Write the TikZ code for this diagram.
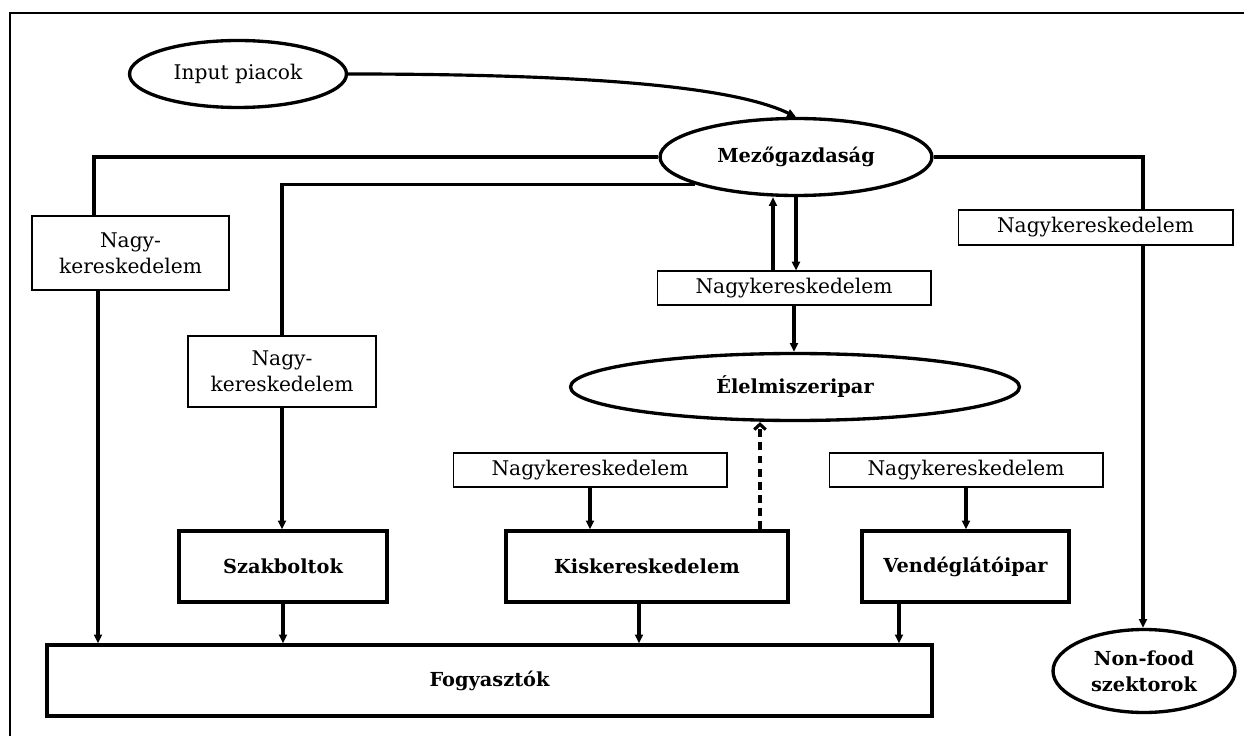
\documentclass[tikz,border=0pt]{standalone}
\usepackage{fontspec}
\setmainfont{DejaVu Serif}
\usepackage{tikz}
\usetikzlibrary{shapes.geometric,arrows.meta}
\newcommand{\diagfont}{\fontsize{11.5}{15}\selectfont}
\newcommand{\diagbold}{\fontsize{11}{15}\selectfont\bfseries}
\tikzset{
	oval/.style={ellipse, draw, line width=1.9pt, inner sep=0pt, font=\diagbold, align=center},
	thinbox/.style={rectangle, draw, line width=0.6pt, inner sep=0pt, font=\diagfont, align=center},
	thickbox/.style={rectangle, draw, line width=1.9pt, inner sep=0pt, font=\diagbold, minimum height=1.42cm},
	link/.style={line width=1.8pt},
	arrow/.style={-{Triangle[length=5pt,width=4.5pt]}, line width=1.8pt}
}

\begin{document}
\begin{tikzpicture}[x=0.02cm,y=-0.02cm]
			\useasboundingbox (0,0) rectangle (1244,736);
			\draw[line width=0.9pt] (10,13) rectangle (1270,760);

			% ellipses
			\node[oval,minimum width=4.34cm,minimum height=1.34cm,font=\diagfont] (input) at (238,74) {Input piacok};
			\node[oval,minimum width=5.44cm,minimum height=1.54cm] (mezo) at (796,157) {Mezőgazdaság};
			\node[oval,minimum width=8.98cm,minimum height=1.34cm] (elelm) at (795,387) {Élelmiszeripar};
			\node[oval,minimum width=3.64cm,minimum height=1.66cm] (nonfood) at (1144,671) {Non-food\\szektorok};

			% wholesale boxes
			\node[thinbox,minimum width=3.94cm,minimum height=1.48cm] (nagyL1) at (130.5,253) {Nagy-\\kereskedelem};
			\node[thinbox,minimum width=3.76cm,minimum height=1.42cm] (nagyL2) at (282,371.5) {Nagy-\\kereskedelem};
			\node[thinbox,minimum width=5.5cm,minimum height=0.7cm] (nagyR) at (1095.5,227.5) {Nagykereskedelem};
			\node[thinbox,minimum width=5.48cm,minimum height=0.68cm] (nagyM) at (794,288) {Nagykereskedelem};
			\node[thinbox,minimum width=5.48cm,minimum height=0.68cm] (nagyK) at (590,470) {Nagykereskedelem};
			\node[thinbox,minimum width=5.48cm,minimum height=0.68cm] (nagyV) at (966,470) {Nagykereskedelem};

			% retail boxes
			\node[thickbox,minimum width=4.16cm] (szak) at (283,566.5) {Szakboltok};
			\node[thickbox,minimum width=5.64cm] (kisk) at (647,566.5) {Kiskereskedelem};
			\node[thickbox,minimum width=4.14cm] (vend) at (965.5,566.5) {Vendéglátóipar};
			\node[thickbox,minimum width=17.7cm] (fogy) at (489.5,680.5) {Fogyasztók};

			% arrows
			\draw[arrow] (input.east) .. controls (620,74) and (740,90) .. (mezo.north);
			\draw[link] (mezo.west) -| ([xshift=-0.73cm]nagyL1.north);
			\draw[arrow] ([xshift=-0.65cm]nagyL1.south) -- ([xshift=-0.65cm]nagyL1.south |- fogy.north);
			\draw[link] (mezo.195) -| (nagyL2.north);
			\draw[arrow] (nagyL2.south) -- (nagyL2.south |- szak.north);
			\draw[link] (mezo.east) -| ([xshift=0.95cm]nagyR.north);
			\draw[arrow] ([xshift=0.95cm]nagyR.south) -- ([xshift=0.95cm]nagyR.south |- nonfood.north);
			\draw[arrow] ([xshift=-0.42cm]nagyM.north) -- ([xshift=-0.42cm]nagyM.north |- mezo.south);
			\draw[arrow] (mezo.south) -- (mezo.south |- nagyM.north);
			\draw[arrow] (nagyM.south) -- (nagyM.south |- elelm.north);
			\draw[-{Straight Barb[length=3pt,width=6.5pt]},line width=1.8pt,dash pattern=on 4.5pt off 3pt] ([xshift=2.26cm]kisk.north) -- ([xshift=2.26cm]kisk.north |- elelm.south);
			\draw[arrow] (nagyK.south) -- (nagyK.south |- kisk.north);
			\draw[arrow] (nagyV.south) -- (nagyV.south |- vend.north);
			\draw[arrow] (szak.south) -- (szak.south |- fogy.north);
			\draw[arrow] ([xshift=-0.16cm]kisk.south) -- ([xshift=-0.16cm]kisk.south |- fogy.north);
			\draw[arrow] ([xshift=-1.33cm]vend.south) -- ([xshift=-1.33cm]vend.south |- fogy.north);
		\end{tikzpicture}
\end{document}
